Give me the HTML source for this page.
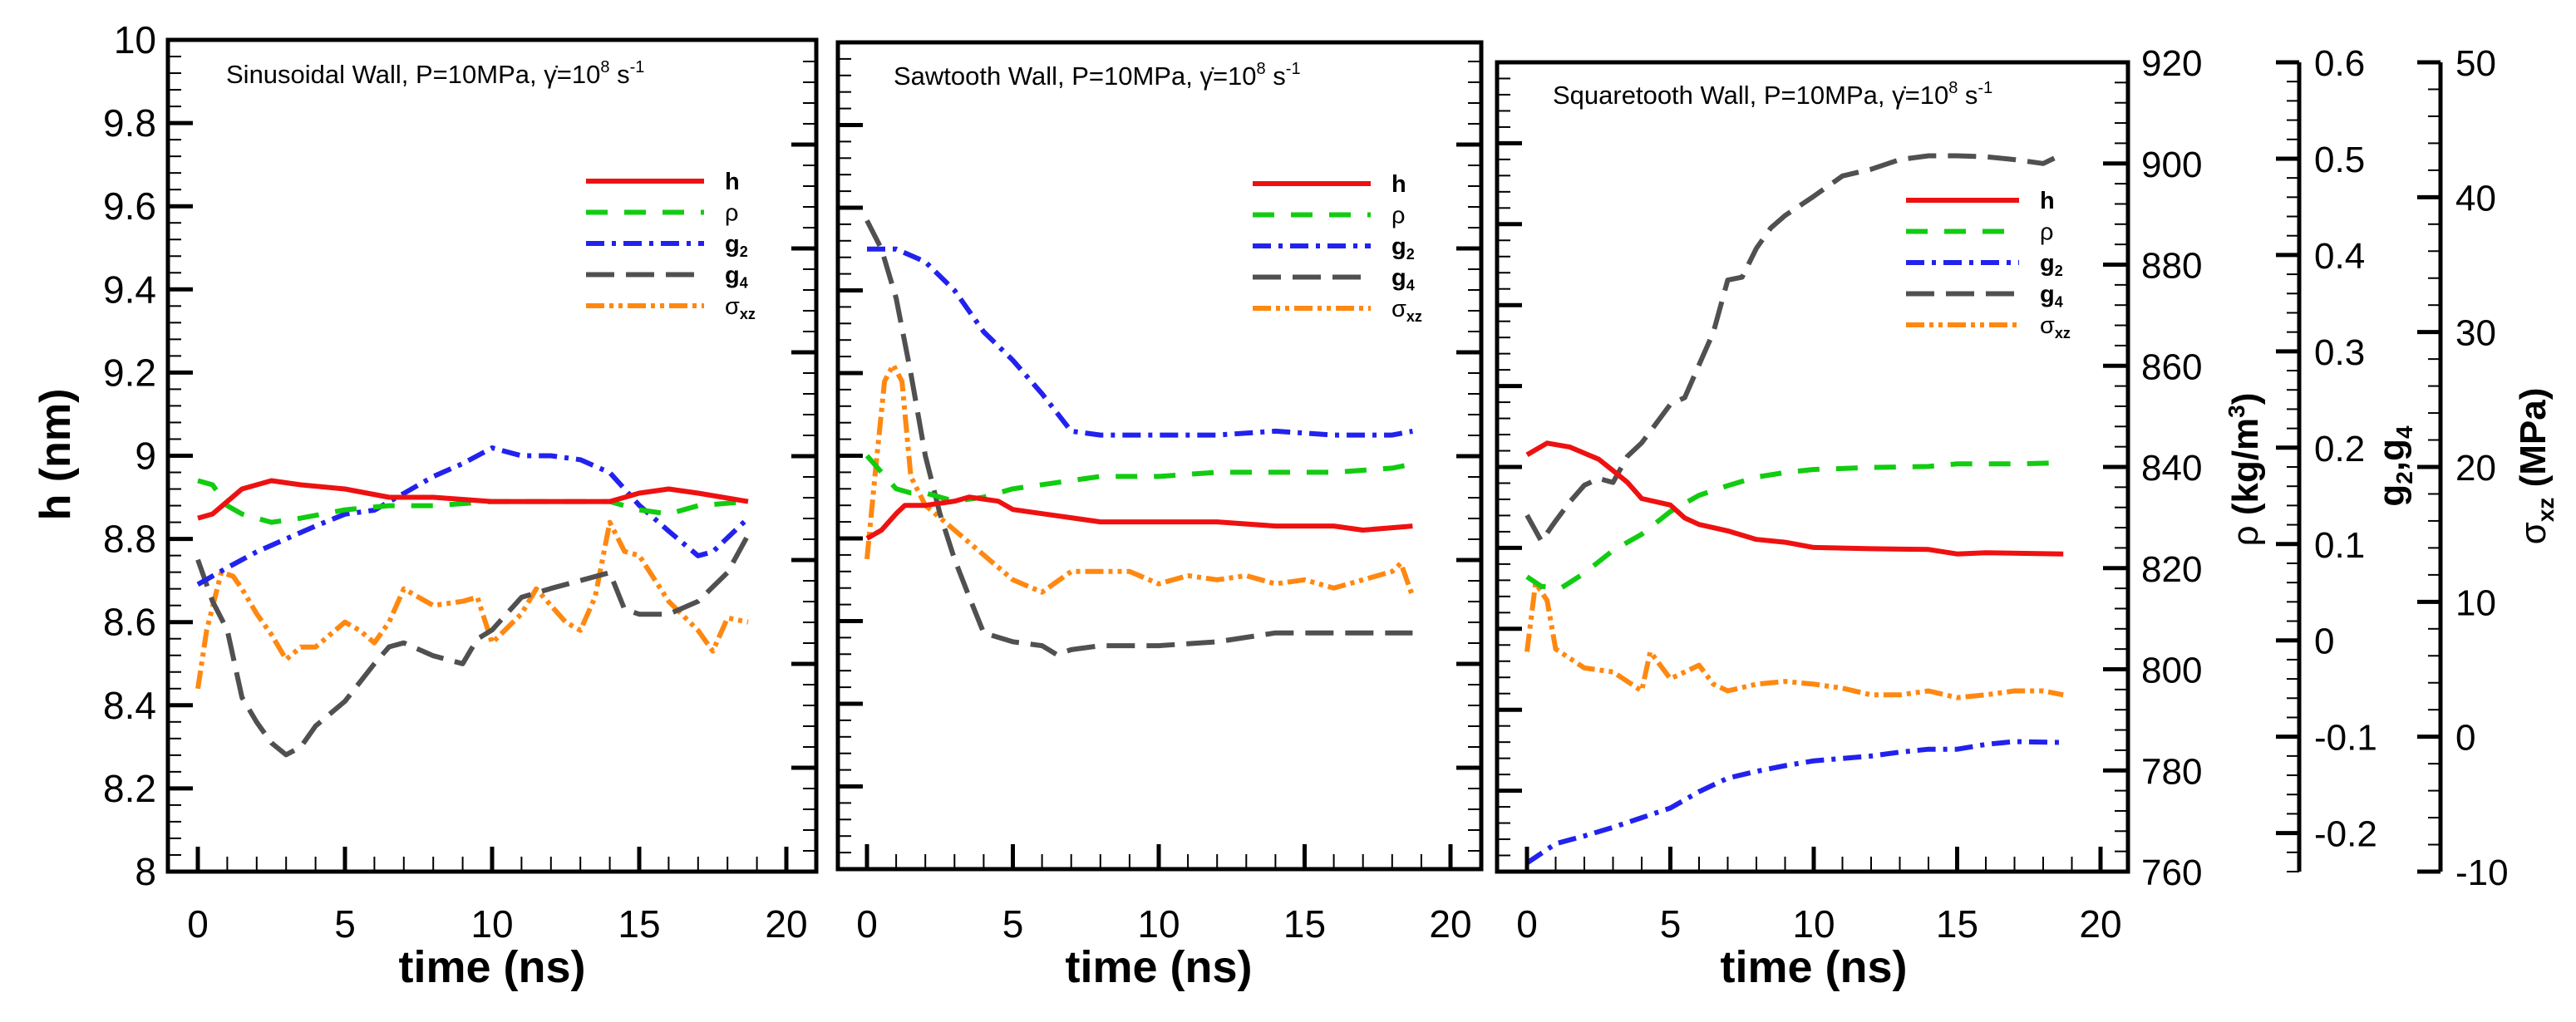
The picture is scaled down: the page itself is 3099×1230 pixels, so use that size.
<!DOCTYPE html>
<html><head><meta charset="utf-8"><style>
html,body{margin:0;padding:0;background:#fff}
svg{display:block;font-family:"Liberation Sans",sans-serif}
</style></head><body>
<svg id="chart" xmlns="http://www.w3.org/2000/svg" width="3099" height="1230" viewBox="0 0 3099 1230"></svg>
<script>
// ---------- data (time in ns) ----------
// Panel 1: Sinusoidal wall
const p1_h_t = [0,0.5,1,1.5,2.5,3.5,5,6.5,8,10,12,14,15,16,17,18.7];
const p1_h_v = [8.85,8.86,8.89,8.92,8.94,8.93,8.92,8.90,8.90,8.89,8.89,8.89,8.91,8.92,8.91,8.89];
const p1_rho_t = [0,0.5,1,1.5,2.5,3.5,5,6.5,8,10,12,14,15,16,17,18.7];
const p1_rho_v = [835.2,834.4,830.4,828.8,827.2,828,829.6,830.4,830.4,831.2,831.2,831.2,829.6,828.8,830.4,831.2];
const p1_g2_t = [0,1,2,3,4,5,6,7,8,9,10,11,12,13,14,15,16,17,17.5,18.7];
const p1_g2_v = [0.050,0.067,0.083,0.096,0.109,0.121,0.125,0.142,0.159,0.172,0.188,0.180,0.180,0.176,0.163,0.130,0.104,0.079,0.083,0.117];
const p1_g4_t = [0,0.5,1,1.5,2,2.5,3,3.5,4,5,6,6.5,7,8,9,9.5,10,11,12,13,14,14.5,15,16,17,18,18.7];
const p1_g4_v = [0.075,0.033,0.004,-0.064,-0.089,-0.110,-0.122,-0.114,-0.093,-0.068,-0.030,-0.013,-0.009,-0.022,-0.030,-0.005,0.004,0.037,0.046,0.054,0.062,0.025,0.020,0.020,0.033,0.062,0.100];
const p1_s_t = [0,0.3,0.8,1.2,1.5,2,2.5,3,3.5,4,5,5.5,6,6.5,7,8,9,9.5,10,11,11.5,12,12.5,13,13.5,14,14.5,15,16,17,17.5,18,18.7];
const p1_s_v = [3.2,7.4,11.6,11.3,10.4,8.6,7.1,5.3,6.2,6.2,8,7.4,6.5,8,10.4,9.2,9.5,9.8,6.5,8.6,10.4,9.2,8,7.4,9.8,15.2,13.1,12.8,9.5,7.4,5.9,8.3,8];
// Panel 2: Sawtooth wall
const p2_h_t = [0,0.5,1,1.3,2,3,3.5,4.5,5,6,7,8,10,12,14,16,17,18.7];
const p2_h_v = [8.80,8.82,8.86,8.88,8.88,8.89,8.90,8.89,8.87,8.86,8.85,8.84,8.84,8.84,8.83,8.83,8.82,8.83];
const p2_rho_t = [0,0.5,1,1.5,2,3,4,5,6,8,10,12,14,16,18,18.7];
const p2_rho_v = [840,836.8,833.6,832.8,832.8,831.2,832,833.6,834.4,836,836,836.8,836.8,836.8,837.6,838.4];
const p2_g2_t = [0,1,2,3,4,5,6,7,8,10,12,14,16,18,18.7];
const p2_g2_v = [0.39,0.39,0.377,0.348,0.306,0.277,0.243,0.205,0.201,0.201,0.201,0.205,0.201,0.201,0.205];
const p2_g4_t = [0,0.5,1,1.5,2,2.5,3,3.5,4,5,6,6.5,7,8,10,12,14,16,18.7];
const p2_g4_v = [0.419,0.39,0.340,0.264,0.18,0.121,0.075,0.037,0,-0.009,-0.013,-0.022,-0.017,-0.013,-0.013,-0.009,0,0,0];
const p2_s_t = [0,0.3,0.6,0.9,1.2,1.5,2,2.5,3,4,5,6,7,8,9,10,11,12,13,14,15,16,17,18,18.3,18.7];
const p2_s_v = [12.5,19.1,25.4,26.6,25.4,18.5,16.4,15.5,14.6,12.8,11,10.1,11.6,11.6,11.6,10.7,11.3,11,11.3,10.7,11,10.4,11,11.6,12.2,9.8];
// Panel 3: Squaretooth wall
const p3_h_t = [0,0.7,1.5,2.5,3,3.5,4,5,5.5,6,7,8,9,10,12,14,15,16,18.7];
const p3_h_v = [9.030,9.059,9.049,9.019,8.991,8.962,8.922,8.906,8.874,8.858,8.842,8.821,8.814,8.801,8.798,8.796,8.785,8.788,8.785];
const p3_rho_t = [0,0.5,1.2,2,3,4,5,6,7,8,9,10,12,14,15,16,17,18.5];
const p3_rho_v = [818.3,816.4,816.1,819.0,823.5,826.7,831.2,834.4,836.3,838.0,838.9,839.5,839.9,840.1,840.6,840.6,840.6,840.8];
const p3_g2_t = [0,1,2,3,4,5,6,7,8,9,10,12,13,14,15,16,17,18.7];
const p3_g2_v = [-0.231,-0.211,-0.203,-0.194,-0.184,-0.174,-0.157,-0.143,-0.136,-0.130,-0.125,-0.120,-0.116,-0.113,-0.113,-0.108,-0.105,-0.106];
const p3_g4_t = [0,0.5,1,1.5,2,2.5,3,3.5,4,4.5,5,5.5,6,6.5,7,7.5,8,8.5,9,10,11,12,13,14,15,16,17,18,18.7];
const p3_g4_v = [0.130,0.103,0.124,0.144,0.161,0.168,0.164,0.191,0.205,0.225,0.245,0.252,0.286,0.320,0.374,0.377,0.407,0.428,0.441,0.461,0.482,0.489,0.499,0.503,0.503,0.502,0.499,0.495,0.505];
const p3_s_t = [0,0.3,0.7,1,1.5,2,3,3.5,4,4.3,5,6,6.5,7,8,9,10,11,12,13,14,15,16,17,18,18.7];
const p3_s_v = [6.3,11.4,10.1,6.5,5.8,5.1,4.8,4.1,3.4,6.3,4.3,5.3,3.9,3.4,3.9,4.1,3.9,3.6,3.1,3.1,3.4,2.9,3.1,3.4,3.4,3.1];
// axis tick labels
const hTicks = ["8","8.2","8.4","8.6","8.8","9","9.2","9.4","9.6","9.8","10"];
const tTicks = ["0","5","10","15","20"];
const rhoTicks = ["760","780","800","820","840","860","880","900","920"];
const gTicks = ["-0.2","-0.1","0","0.1","0.2","0.3","0.4","0.5","0.6"];
const sTicks = ["-10","0","10","20","30","40","50"];

// ---------- drawing ----------
const NS="http://www.w3.org/2000/svg";
const svg=document.getElementById('chart');
function mk(tag,attrs,parent){const e=document.createElementNS(NS,tag);for(const k in attrs)e.setAttribute(k,attrs[k]);(parent||svg).appendChild(e);return e;}
function line(x1,y1,x2,y2,w,p){return mk('line',{x1,y1,x2,y2,stroke:'#000','stroke-width':w},p);}

const COL={h:'#ee1111',rho:'#11cc11',g2:'#2222ee',g4:'#505050',s:'#ff8811'};
const DASH={h:'none',rho:'26 20',g2:'22 9 5 9',g4:'34 14',s:'22 6 5 6 5 6'};

const panels=[
 {name:'sinusoidal',fl:202,fr:982,top:48,bot:1049,t0:238,t20:946,title:'Sinusoidal Wall',tx:272,ty:100,lx:705,ly:218,
  data:{h:[p1_h_t,p1_h_v],rho:[p1_rho_t,p1_rho_v],g2:[p1_g2_t,p1_g2_v],g4:[p1_g4_t,p1_g4_v],s:[p1_s_t,p1_s_v]},rightStart:549,rightStep:125,rightMinor:5},
 {name:'sawtooth',fl:1008,fr:1782,top:51,bot:1046,t0:1043,t20:1745,title:'Sawtooth Wall',tx:1075,ty:102,lx:1507,ly:221,
  data:{h:[p2_h_t,p2_h_v],rho:[p2_rho_t,p2_rho_v],g2:[p2_g2_t,p2_g2_v],g4:[p2_g4_t,p2_g4_v],s:[p2_s_t,p2_s_v]},rightStart:549,rightStep:125,rightMinor:5},
 {name:'squaretooth',fl:1801,fr:2560,top:75,bot:1049,t0:1837,t20:2527,title:'Squaretooth Wall',tx:1868,ty:125,lx:2293,ly:241,
  data:{h:[p3_h_t,p3_h_v],rho:[p3_rho_t,p3_rho_v],g2:[p3_g2_t,p3_g2_v],g4:[p3_g4_t,p3_g4_v],s:[p3_s_t,p3_s_v]},rightStart:null}
];

panels.forEach((P,pi)=>{
  const g=mk('g',{});
  
  
  const H=P.bot-P.top;
  const xS=t=>P.t0+t/20*(P.t20-P.t0);
  const sc={
    h:v=>P.bot-(v-8)/2*H,
    rho:v=>P.bot-(v-760)/160*H,
    g2:v=>P.bot-(v+0.24)/0.84*H,
    g4:v=>P.bot-(v+0.24)/0.84*H,
    s:v=>P.bot-(v+10)/60*H
  };
  const cp=mk('clipPath',{id:'clip'+pi},g);
  mk('rect',{x:P.fl,y:P.top,width:P.fr-P.fl,height:H},cp);
  ['s','g4','g2','rho','h'].forEach(k=>{
    const [ts,vs]=P.data[k];
    const d=ts.map((t,i)=>(i?'L':'M')+xS(t).toFixed(1)+' '+sc[k](vs[i]).toFixed(1)).join(' ');
    const p=mk('path',{d,fill:'none',stroke:COL[k],'stroke-width':6,'stroke-dasharray':DASH[k],'stroke-linejoin':'round','clip-path':'url(#clip'+pi+')'},g);
    
    
  });
  for(let t=0;t<=20;t++){
    const x=xS(t),maj=t%5===0;
    line(x,P.bot,x,P.bot-(maj?30:18),maj?5:2,g);
  }
  tTicks.forEach((lab,i)=>{
    const tx=mk('text',{x:xS(i*5),y:1128,'font-size':46,'text-anchor':'middle'},g);tx.textContent=lab;
    
    
  });
  const xt=mk('text',{x:(P.t0+P.t20)/2,y:1182,'font-size':54,'font-weight':'bold','text-anchor':'middle'},g);
  xt.textContent='time (ns)';
  
  
  for(let i=0;i<=50;i++){
    const v=8+i*0.04;const y=sc.h(v);if(y<P.top+2)continue;
    const maj=i%5===0;
    line(P.fl,y,P.fl+(maj?30:16),y,maj?5:2,g);
  }
  if(P.rightStart!==null){
    const minorStep=P.rightStep/P.rightMinor;
    for(let y=P.rightStart-10*P.rightStep;y<P.bot;y+=minorStep){
      if(y<=P.top+2)continue;
      const k=Math.round((y-P.rightStart)/minorStep);const maj=k%P.rightMinor===0;
      line(P.fr,y,P.fr-(maj?30:16),y,maj?5:2,g);
    }
  } else {
    for(let i=0;i<=40;i++){
      const v=760+i*4;const y=sc.rho(v);const maj=i%5===0;
      line(P.fr,y,P.fr-(maj?30:16),y,maj?5:2,g);
    }
  }
  const fr=mk('rect',{x:P.fl,y:P.top,width:P.fr-P.fl,height:H,fill:'none',stroke:'#000','stroke-width':5},g);
  
  
  const tt=mk('text',{x:P.tx,y:P.ty,'font-size':31},g);
  tt.innerHTML=P.title+', P=10MPa, γ̇=10<tspan dy="-13" font-size="20">8</tspan><tspan dy="13"> s</tspan><tspan dy="-13" font-size="20">-1</tspan>';
  
  
  const lg=mk('g',{},g);
  
  
  const keys=['h','rho','g2','g4','s'];
  const labs=['h','ρ','g<tspan font-size="18" dy="6">2</tspan>','g<tspan font-size="18" dy="6">4</tspan>','σ<tspan font-size="18" dy="6" font-weight="bold">xz</tspan>'];
  const len=P.name==='squaretooth'?136:142;
  keys.forEach((k,i)=>{
    const y=P.ly+i*37.5;
    mk('line',{x1:P.lx,y1:y,x2:P.lx+len,y2:y,stroke:COL[k],'stroke-width':6,'stroke-dasharray':DASH[k]},lg);
    const t=mk('text',{x:P.lx+len+25,y:y+10,'font-size':29,'font-weight':(k==='h'||k==='g2'||k==='g4')?'bold':'normal'},lg);
    t.innerHTML=labs[i];
    
    
  });
  P.sc=sc;
});

const P1=panels[0];
hTicks.forEach((lab,i)=>{
  const t=mk('text',{x:188,y:P1.sc.h(8+i*0.2)+16,'font-size':46,'text-anchor':'end'});t.textContent=lab;
  
  
});
const yt=mk('text',{x:84,y:547,'font-size':52,'font-weight':'bold','text-anchor':'middle',transform:'rotate(-90 84 547)'});
yt.textContent='h (nm)';



const P3=panels[2];
rhoTicks.forEach((lab,i)=>{
  const t=mk('text',{x:2576,y:P3.sc.rho(760+i*20)+16,'font-size':44});t.textContent=lab;
  
  
});
const gx=2766;
line(gx,P3.top,gx,P3.bot,5);
for(let i=0;i<=42;i++){const v=-0.24+i*0.02;const y=P3.sc.g2(v);const maj=Math.abs(Math.round(v*10)-v*10)<1e-6;line(gx,y,gx-(maj?28:15),y,maj?5:2);}
gTicks.forEach((lab,i)=>{
  const t=mk('text',{x:2784,y:P3.sc.g2(-0.2+i*0.1)+16,'font-size':44});t.textContent=lab;
  
  
});
const sx=2936;
line(sx,P3.top,sx,P3.bot,5);
for(let i=0;i<=30;i++){const v=-10+i*2;const y=P3.sc.s(v);const maj=i%5===0;line(sx,y,sx-(maj?28:15),y,maj?5:2);}
sTicks.forEach((lab,i)=>{
  const t=mk('text',{x:2954,y:P3.sc.s(-10+i*10)+16,'font-size':44});t.textContent=lab;
  
  
});
const r1=mk('text',{x:2716,y:565,'font-size':44,'font-weight':'bold','text-anchor':'middle',transform:'rotate(-90 2716 565)'});
r1.innerHTML='<tspan font-weight="normal">ρ</tspan> (kg/m<tspan font-size="28" dy="-16">3</tspan><tspan dy="16">)</tspan>';


const r2=mk('text',{x:2892,y:561,'font-size':44,'font-weight':'bold','text-anchor':'middle',transform:'rotate(-90 2892 561)'});
r2.innerHTML='g<tspan font-size="28" dy="10">2</tspan><tspan dy="-10">,g</tspan><tspan font-size="28" dy="10">4</tspan>';


const r3=mk('text',{x:3062,y:561,'font-size':44,'font-weight':'bold','text-anchor':'middle',transform:'rotate(-90 3062 561)'});
r3.innerHTML='<tspan font-weight="normal">σ</tspan><tspan font-size="28" dy="10">xz</tspan><tspan dy="-10"> (MPa)</tspan>';


</script>
</body></html>
